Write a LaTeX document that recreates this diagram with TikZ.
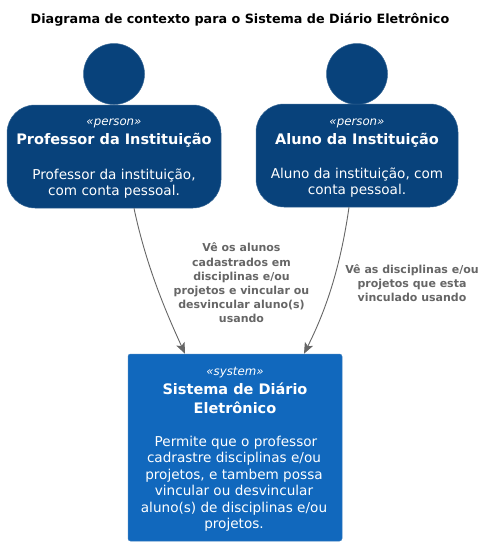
\documentclass[tikz,border=0pt]{standalone}
\usepackage{fontspec}
\setmainfont{DejaVu Sans}
\usetikzlibrary{arrows.meta}
\definecolor{persona}{HTML}{08427B}
\definecolor{sistema}{HTML}{1168BD}
\definecolor{linha}{HTML}{666666}
\definecolor{borda}{HTML}{3C7FC0}
\tikzset{
  x=1pt,y=-1pt,
  headshape/.style={circle,fill=persona,draw=persona!80!white,line width=.5pt,minimum size=61pt,inner sep=0pt},
  personbox/.style={rectangle,rounded corners=28pt,fill=persona,draw=persona!80!white,line width=.5pt,inner sep=0pt},
  systembox/.style={rectangle,rounded corners=2.5pt,fill=sistema,draw=borda,line width=.5pt,inner sep=0pt},
  stereo/.style={text=white,font=\fontsize{11.8}{13}\selectfont\itshape,inner sep=0pt},
  nametext/.style={text=white,align=center,inner sep=0pt,font=\fontsize{14.5}{19}\selectfont\bfseries},
  desctext/.style={text=white,align=center,inner sep=0pt,font=\fontsize{13.6}{16.5}\selectfont},
  linklabel/.style={text=linha,align=center,inner sep=0pt,font=\fontsize{11}{14.2}\selectfont\bfseries},
  link/.style={draw=linha,line width=.9pt,-{Stealth[length=11pt,width=9pt,inset=2.5pt]}},
  titletext/.style={text=black,inner sep=0pt,font=\fontsize{12.75}{15}\selectfont\bfseries}
}
\begin{document}
\begin{tikzpicture}
\useasboundingbox (0,0) rectangle (492,546);
\node[titletext] (title) at (240,20) {Diagrama de contexto para o Sistema de Diário Eletrônico};

\node[headshape] (headA) at (114,74) {};
\node[personbox,minimum width=214pt,minimum height=103pt] (prof) at (114,156.5) {};
\node[stereo] (profS) at (114,123.5) {«person»};
\node[nametext] (profN) at (114,140) {Professor da Instituição};
\node[desctext] (profD) at (114,183.5) {Professor da instituição,\\com conta pessoal.};

\node[headshape] (headB) at (357,74) {};
\node[personbox,minimum width=202pt,minimum height=103pt] (aluno) at (357,155.5) {};
\node[stereo] (alunoS) at (357,123.5) {«person»};
\node[nametext] (alunoN) at (357,140) {Aluno da Instituição};
\node[desctext] (alunoD) at (357,182.5) {Aluno da instituição, com\\conta pessoal.};

\node[systembox,minimum width=214pt,minimum height=187pt] (sys) at (235,447.5) {};
\node[stereo] (sysS) at (235,372.5) {«system»};
\node[nametext] (sysN) at (235,398.5) {Sistema de Diário\\Eletrônico};
\node[desctext] (sysD) at (234,483.5) {\hspace*{4pt}Permite que o professor\\cadrastre disciplinas e/ou\\projetos, e tambem possa\\vincular ou desvincular\\aluno(s) de disciplinas e/ou\\projetos.};

\coordinate (a1) at ([xshift=20pt]prof.south);
\coordinate (a2) at ([xshift=-50pt]sys.north);
\coordinate (b1) at ([xshift=-8pt]aluno.south);
\coordinate (b2) at ([xshift=69pt]sys.north);
\draw[link] (a1) .. controls (146,265) and (165,310) .. (a2);
\draw[link] (b1) .. controls (340,270) and (325,312) .. (b2);

\node[linklabel] (labA) at (241.5,283) {Vê os alunos\\cadastrados em\\disciplinas e/ou\\projetos e vincular ou\\desvincular aluno(s)\\usando};
\node[linklabel] (labB) at (412,283) {Vê as disciplinas e/ou\\projetos que esta\\vinculado usando};
\end{tikzpicture}
\end{document}
